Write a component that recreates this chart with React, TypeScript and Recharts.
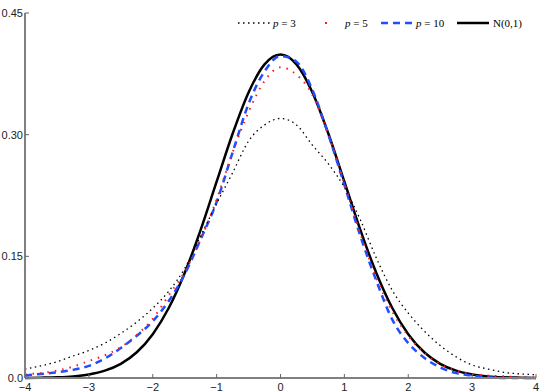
import React from "react";
import { LineChart, Line, XAxis, YAxis } from "recharts";

// x grid of the densities
const xs = [
  -4, -3.75, -3.5, -3.25, -3, -2.75, -2.5, -2.25, -2, -1.75, -1.5, -1.25, -1, -0.75, -0.5, -0.25, 0,
  0.25, 0.5, 0.75, 1, 1.25, 1.5, 1.75, 2, 2.25, 2.5, 2.75, 3, 3.25, 3.5, 3.75, 4,
];

const p3 = [
  0.011, 0.015, 0.02, 0.027, 0.034, 0.043, 0.055, 0.069, 0.086, 0.107, 0.135, 0.175, 0.215, 0.253, 0.292, 0.312, 0.32,
  0.312, 0.287, 0.264, 0.235, 0.195, 0.148, 0.108, 0.08, 0.058, 0.04, 0.026, 0.016, 0.011, 0.007, 0.005, 0.004,
];

const p5 = [
  0.005, 0.006, 0.009, 0.014, 0.021, 0.028, 0.038, 0.053, 0.073, 0.102, 0.131, 0.171, 0.22, 0.278, 0.328, 0.366, 0.383,
  0.374, 0.349, 0.3, 0.24, 0.178, 0.124, 0.082, 0.052, 0.031, 0.017, 0.009, 0.005, 0.003, 0.002, 0.001, 0.001,
];

const p10 = [
  0.003, 0.005, 0.007, 0.01, 0.015, 0.024, 0.037, 0.052, 0.07, 0.095, 0.128, 0.171, 0.217, 0.278, 0.338, 0.378, 0.397,
  0.39, 0.355, 0.3, 0.238, 0.175, 0.12, 0.072, 0.043, 0.025, 0.013, 0.006, 0.003, 0.001, 0, 0, 0,
];

const normal = [
  0.0001, 0.0004, 0.0009, 0.002, 0.0044, 0.0091, 0.0175, 0.0317, 0.054, 0.0863, 0.1295, 0.1826, 0.242, 0.3011, 0.3521,
  0.3867, 0.3989, 0.3867, 0.3521, 0.3011, 0.242, 0.1826, 0.1295, 0.0863, 0.054, 0.0317, 0.0175, 0.0091, 0.0044, 0.002,
  0.0009, 0.0004, 0.0001,
];

const xTicks = [-4, -3, -2, -1, 0, 1, 2, 3, 4];
const yTicks = [0, 0.15, 0.3, 0.45];
const yLabels = ["0.0", "0.15", "0.30", "0.45"];

const data = xs.map((x, i) => ({ x, p3: p3[i], p5: p5[i], p10: p10[i], n: normal[i] }));

const BLUE = "#1f4dff";
const RED = "#ff1a1a";
const labelFont = "'Liberation Sans', Arial, sans-serif";
const mathFont = "'Liberation Serif', 'Times New Roman', serif";

const fmtX = (v: number) => (v < 0 ? `\u2212${Math.abs(v)}` : `${v}`);

const BottomTick = ({ x, y, payload }: any) => (
  <g>
    <line x1={x} x2={x} y1={y} y2={y - 4} stroke="#666" />
    <text x={x} y={y + 13} textAnchor="middle" fontSize={11} fontFamily={labelFont} fill="#222">
      {fmtX(payload.value)}
    </text>
  </g>
);

const TopTick = ({ x, y }: any) => <line x1={x} x2={x} y1={y} y2={y + 4} stroke="#000" />;

const LeftTick = ({ x, y, payload, index }: any) => (
  <g>
    <line x1={x} x2={x + 4} y1={y} y2={y} stroke="#666" />
    <text x={x - 2} y={y + 4} textAnchor="end" fontSize={11} fontFamily={labelFont} fill="#222">
      {yLabels[index] ?? payload.value}
    </text>
  </g>
);

const RightTick = ({ x, y }: any) => <line x1={x} x2={x - 4} y1={y} y2={y} stroke="#000" />;

function LegendBox() {
  const cy = 23;
  return (
    <svg width={547} height={40} style={{ position: "absolute", left: 0, top: 0, pointerEvents: "none" }}>
      <line x1={238} x2={270} y1={cy} y2={cy} stroke="#000" strokeWidth={1.3} strokeDasharray="1.5 3.5" />
      <text x={273} y={cy + 4} fontSize={11} fontFamily={mathFont}>
        <tspan fontStyle="italic">p</tspan> = 3
      </text>
      <line x1={325} x2={327} y1={cy} y2={cy} stroke={RED} strokeWidth={2} />
      <text x={345} y={cy + 4} fontSize={11} fontFamily={mathFont}>
        <tspan fontStyle="italic">p</tspan> = 5
      </text>
      <line x1={381} x2={413} y1={cy} y2={cy} stroke={BLUE} strokeWidth={2.5} strokeDasharray="7 5" />
      <text x={416} y={cy + 4} fontSize={11} fontFamily={mathFont}>
        <tspan fontStyle="italic">p</tspan> = 10
      </text>
      <line x1={457} x2={489} y1={cy} y2={cy} stroke="#000" strokeWidth={2.5} />
      <text x={493} y={cy + 4} fontSize={11} fontFamily={mathFont}>
        N(0,1)
      </text>
    </svg>
  );
}

export default function App() {
  return (
    <div style={{ position: "absolute", left: 0, top: 0, width: 547, height: 392, background: "#fff" }}>
      <LineChart width={547} height={392} data={data} margin={{ top: 13, right: 11, left: 0, bottom: 0 }}>
        <XAxis
          dataKey="x"
          type="number"
          domain={[-4, 4]}
          ticks={xTicks}
          height={14}
          tickSize={0}
          tickMargin={0}
          tickLine={false}
          tick={<BottomTick />}
          axisLine={{ stroke: "#808080", strokeWidth: 2 }}
          interval={0}
        />
        <XAxis
          xAxisId="top"
          orientation="top"
          dataKey="x"
          type="number"
          domain={[-4, 4]}
          ticks={xTicks}
          height={0}
          tickSize={0}
          tickMargin={0}
          tickLine={false}
          tick={<TopTick />}
          axisLine={{ stroke: "#000", strokeWidth: 1 }}
          interval={0}
        />
        <YAxis
          type="number"
          domain={[0, 0.45]}
          ticks={yTicks}
          width={25}
          tickSize={0}
          tickMargin={0}
          tickLine={false}
          tick={<LeftTick />}
          axisLine={{ stroke: "#808080", strokeWidth: 2 }}
          interval={0}
        />
        <YAxis
          yAxisId="right"
          orientation="right"
          type="number"
          domain={[0, 0.45]}
          ticks={yTicks}
          width={0}
          tickSize={0}
          tickMargin={0}
          tickLine={false}
          tick={<RightTick />}
          axisLine={{ stroke: "#000", strokeWidth: 1 }}
          interval={0}
        />
        <Line type="monotone" dataKey="n" stroke="#000" strokeWidth={2.5} dot={false} activeDot={false} isAnimationActive={false} />
        <Line type="monotone" dataKey="p10" stroke={BLUE} strokeWidth={2.5} strokeDasharray="7 5" dot={false} activeDot={false} isAnimationActive={false} />
        <Line type="monotone" dataKey="p5" stroke={RED} strokeWidth={2} strokeDasharray="1.5 6" dot={false} activeDot={false} isAnimationActive={false} />
        <Line type="monotone" dataKey="p3" stroke="#000" strokeWidth={1.3} strokeDasharray="1.5 3.5" dot={false} activeDot={false} isAnimationActive={false} />
      </LineChart>
      <LegendBox />
    </div>
  );
}
